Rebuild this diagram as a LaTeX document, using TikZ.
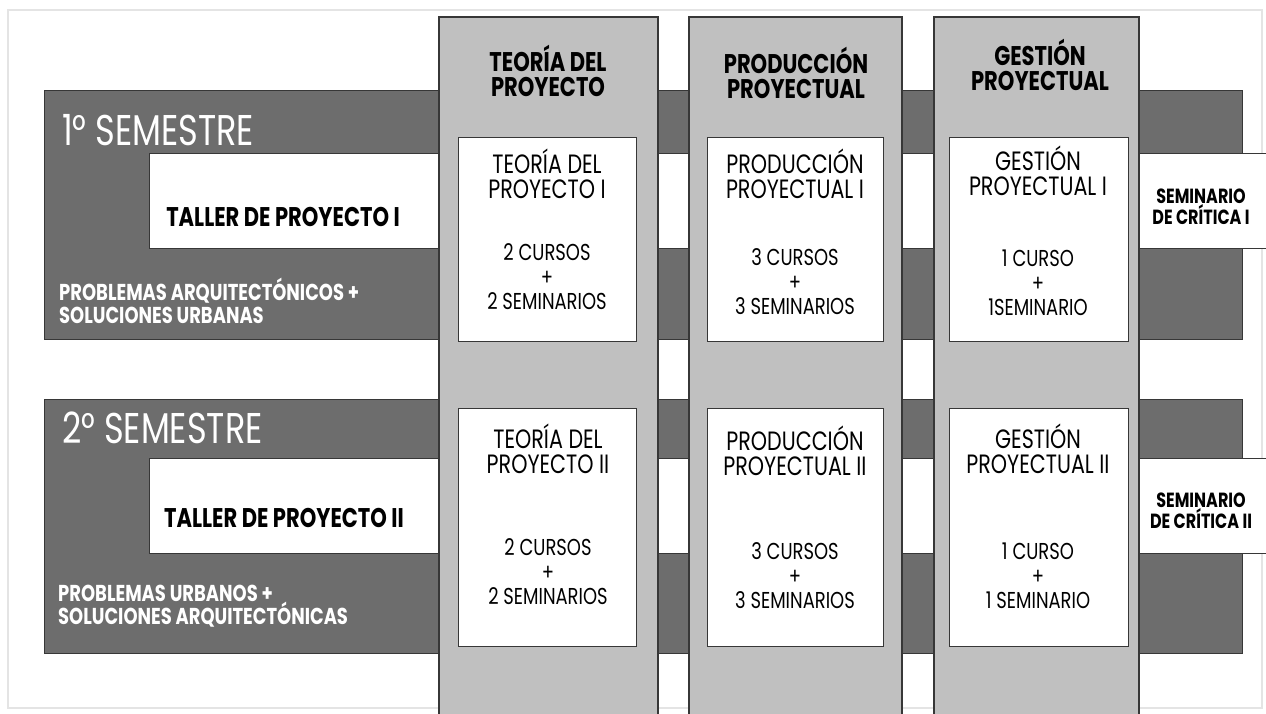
\documentclass[tikz,border=0pt]{standalone}
\usepackage{fontspec}
\setmainfont{Poppins}
\newfontfamily\thinfont[FakeStretch=0.78]{Poppins}
\usetikzlibrary{positioning}
\definecolor{bargray}{RGB}{109,109,109}
\definecolor{colgray}{RGB}{192,192,192}
\definecolor{framegray}{RGB}{228,228,228}
\definecolor{edgegray}{RGB}{55,55,55}

\begin{document}
\begin{tikzpicture}[line join=miter,x=1pt,y=-1pt,
    frameline/.style={draw=framegray,line width=1.5pt},
    semband/.style={fill=bargray,draw=edgegray,line width=1pt},
    strip/.style={fill=white,draw=edgegray,line width=1pt},
    column/.style={fill=colgray,draw=edgegray,line width=1.3pt},
    card/.style={fill=white,draw=edgegray,line width=1pt},
    semtitle/.style={text=white,inner sep=0pt,anchor=west,font=\thinfont\fontsize{43}{43}\selectfont},
    semnote/.style={text=white,inner sep=0pt,anchor=west,align=left,font=\thinfont\bfseries\fontsize{23}{22.5}\selectfont},
    tallerlabel/.style={inner sep=0pt,font=\thinfont\bfseries\fontsize{27}{27}\selectfont},
    colhead/.style={inner sep=0pt,align=center,font=\thinfont\bfseries\fontsize{27}{25}\selectfont},
    cardtitle/.style={inner sep=0pt,align=center,font=\thinfont\fontsize{26.5}{25.5}\selectfont},
    cardcount/.style={inner sep=0pt,align=center,font=\thinfont\fontsize{23}{24.5}\selectfont},
    critica/.style={inner sep=0pt,align=center,font=\thinfont\bfseries\fontsize{20.5}{21}\selectfont}]
  \useasboundingbox (0,0) rectangle (1266,713);
  \draw[frameline] (8,10) rectangle (1262,708);
  \foreach \top/\bot in {90/339,399/653}
  \draw[semband] (44,\top) rectangle (1242,\bot);
  \foreach \top/\bot in {153/248,458/553}
  \draw[strip] (149,\top) rectangle (1270,\bot);
  \foreach \l/\r in {439/658,689/902,934/1139}
  \draw[column] (\l,17) rectangle (\r,720);
  \foreach \l/\r in {458/636,707/883,949/1128} {
    \draw[card] (\l,137) rectangle (\r,341);
    \draw[card] (\l,408) rectangle (\r,646);
  }
  \node[semtitle] (semI) at (62,130) {1° SEMESTRE};
  \node[semtitle] (semII) at (62,428) {2° SEMESTRE};
  \node[tallerlabel] (tallerI) at (283,217) {TALLER DE PROYECTO I};
  \node[tallerlabel] (tallerII) at (284,518) {TALLER DE PROYECTO II};
  \node[semnote] (noteI) at (59,301) {PROBLEMAS ARQUITECTÓNICOS +\\SOLUCIONES URBANAS};
  \node[semnote] (noteII) at (58,606) {PROBLEMAS URBANOS +\\SOLUCIONES ARQUITECTÓNICAS};
  \node[colhead] (headteoria) at (548,71) {TEORÍA DEL\\PROYECTO};
  \node[colhead] (headprod) at (796,73) {PRODUCCIÓN\\PROYECTUAL};
  \node[colhead] (headgest) at (1040,65) {GESTIÓN\\PROYECTUAL};
  \node[cardtitle] (teoriaI) at (547,174) {TEORÍA DEL\\PROYECTO I};
  \node[cardtitle] (prodI) at (795,174) {PRODUCCIÓN\\PROYECTUAL I};
  \node[cardtitle] (gestI) at (1038,171) {GESTIÓN\\PROYECTUAL I};
  \node[cardcount] (teoriaIn) at (547,277) {2 CURSOS\\+\\2 SEMINARIOS};
  \node[cardcount] (prodIn) at (795,282) {3 CURSOS\\+\\3 SEMINARIOS};
  \node[cardcount] (gestIn) at (1038,283) {1 CURSO\\+\\1SEMINARIO};
  \node[cardtitle] (teoriaII) at (548,449) {TEORÍA DEL\\PROYECTO II};
  \node[cardtitle] (prodII) at (795,451) {PRODUCCIÓN\\PROYECTUAL II};
  \node[cardtitle] (gestII) at (1038,449) {GESTIÓN\\PROYECTUAL II};
  \node[cardcount] (teoriaIIn) at (548,572) {2 CURSOS\\+\\2 SEMINARIOS};
  \node[cardcount] (prodIIn) at (795,576) {3 CURSOS\\+\\3 SEMINARIOS};
  \node[cardcount] (gestIIn) at (1038,576) {1 CURSO\\+\\1 SEMINARIO};
  \node[critica] (criticaI) at (1201,207) {SEMINARIO\\DE CRÍTICA I};
  \node[critica] (criticaII) at (1201,511) {SEMINARIO\\DE CRÍTICA II};
\end{tikzpicture}
\end{document}
